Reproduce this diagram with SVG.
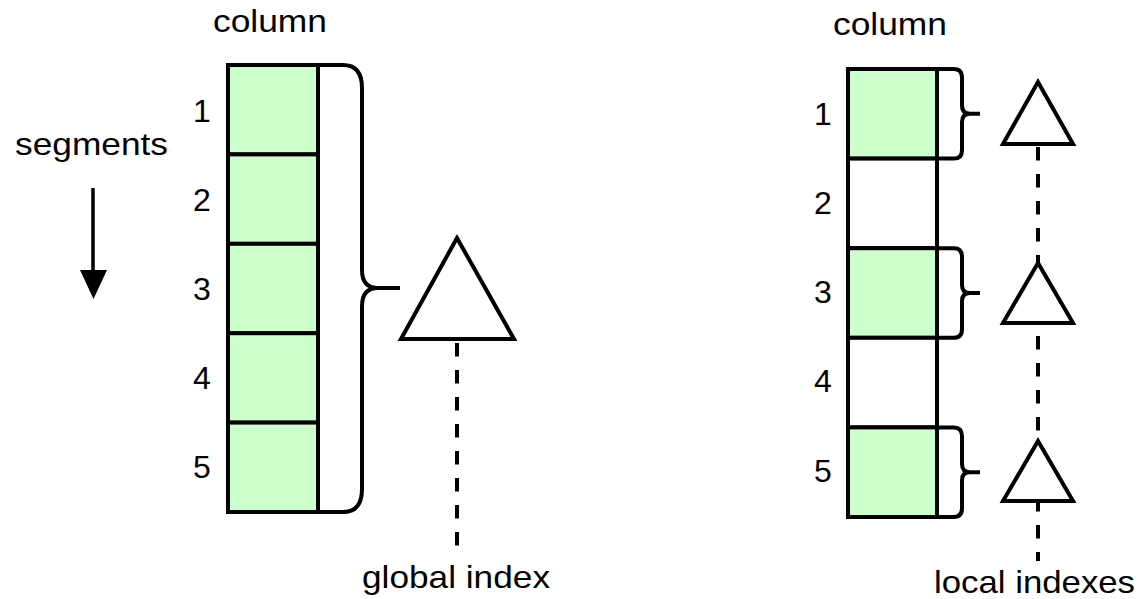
<svg xmlns="http://www.w3.org/2000/svg" width="1143" height="599" viewBox="0 0 1143 599">
<style>
text{font-family:"Liberation Sans",Arial,Helvetica,sans-serif;font-size:32px;fill:#000}
.num{text-anchor:middle}
.cell{stroke:#000;stroke-width:4}
.g{fill:#CCFFCC}
.w{fill:#FFFFFF}
.brace{fill:none;stroke:#000;stroke-width:4;stroke-linejoin:round}
.tri{fill:#fff;stroke:#000;stroke-width:4;stroke-linejoin:miter}
.dash{stroke:#000;stroke-width:4;stroke-dasharray:13.5 13.5;fill:none}
</style>
<rect width="1143" height="599" fill="#fff"/>

<g id="connectors">
<line class="dash" x1="457" y1="343" x2="457" y2="557"/>
<line class="dash" x1="1038" y1="147" x2="1038" y2="561"/>
<line x1="93" y1="188" x2="93" y2="272" stroke="#000" stroke-width="3.5"/>
<path d="M80,270 L107,270 L93.5,299 Z" fill="#000"/>
</g>

<g id="label-segments"><text x="15" y="155" textLength="153" lengthAdjust="spacingAndGlyphs">segments</text></g>

<g id="left-column">
<text x="213" y="32" textLength="114" lengthAdjust="spacingAndGlyphs">column</text>
<rect class="cell g" x="228" y="65" width="90" height="89.4"/>
<rect class="cell g" x="228" y="154.4" width="90" height="89.4"/>
<rect class="cell g" x="228" y="243.8" width="90" height="89.4"/>
<rect class="cell g" x="228" y="333.2" width="90" height="89.4"/>
<rect class="cell g" x="228" y="422.6" width="90" height="89.4"/>
<text class="num" x="202" y="122">1</text>
<text class="num" x="202" y="211">2</text>
<text class="num" x="202" y="300">3</text>
<text class="num" x="202" y="389">4</text>
<text class="num" x="202" y="478">5</text>
</g>

<g id="left-brace">
<path class="brace" d="M318,65 H343 Q362,65 362,88 V270 Q362,288 378,288 H400 M378,288 Q362,288 362,306 V489 Q362,512 343,512 H318"/>
</g>

<g id="global-index">
<polygon class="tri" points="457,238 401,339 514,339"/>
<text x="362" y="588" textLength="188" lengthAdjust="spacingAndGlyphs">global index</text>
</g>

<g id="right-column">
<text x="833" y="35" textLength="114" lengthAdjust="spacingAndGlyphs">column</text>
<rect class="cell g" x="848" y="69" width="89" height="89.6"/>
<rect class="cell w" x="848" y="158.6" width="89" height="89.6"/>
<rect class="cell g" x="848" y="248.2" width="89" height="89.6"/>
<rect class="cell w" x="848" y="337.8" width="89" height="89.6"/>
<rect class="cell g" x="848" y="427.4" width="89" height="89.6"/>
<text class="num" x="823" y="125">1</text>
<text class="num" x="823" y="214">2</text>
<text class="num" x="823" y="303">3</text>
<text class="num" x="823" y="392">4</text>
<text class="num" x="823" y="482">5</text>
</g>

<g id="right-braces">
<path class="brace" d="M937,69 H954 Q962,69 962,78 V105 Q962,113.8 970,113.8 H980 M970,113.8 Q962,113.8 962,122 V150 Q962,158.6 954,158.6 H937"/>
<path class="brace" d="M937,248.2 H954 Q962,248.2 962,257 V285 Q962,293 970,293 H980 M970,293 Q962,293 962,301 V329 Q962,337.8 954,337.8 H937"/>
<path class="brace" d="M937,427.4 H954 Q962,427.4 962,436 V464 Q962,472.2 970,472.2 H980 M970,472.2 Q962,472.2 962,480 V508 Q962,517 954,517 H937"/>
</g>

<g id="local-index-1"><polygon class="tri" points="1038,82 1003,144 1073,144"/></g>
<g id="local-index-3"><polygon class="tri" points="1038,263 1003,323 1073,323"/></g>
<g id="local-index-5"><polygon class="tri" points="1038,441 1003,501 1073,501"/></g>
<g id="label-local"><text x="934" y="593" textLength="201" lengthAdjust="spacingAndGlyphs">local indexes</text></g>
</svg>
